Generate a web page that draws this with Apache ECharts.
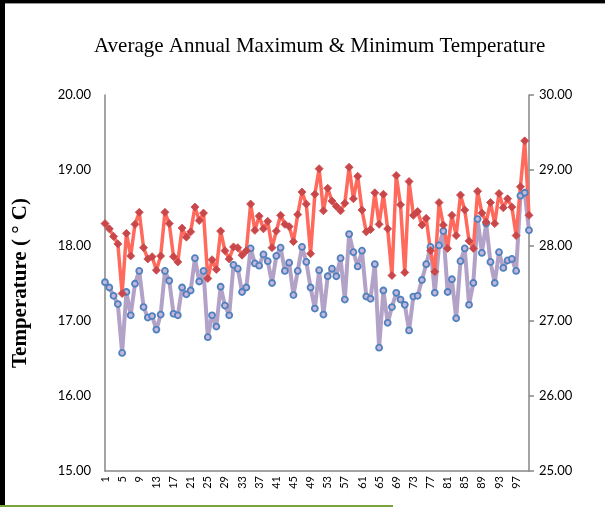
<!DOCTYPE html>
<html>
<head>
<meta charset="utf-8">
<script src="https://cdn.jsdelivr.net/npm/echarts@6/dist/echarts.min.js"></script>
<style>
html,body{margin:0;padding:0;background:#fff;}
#chart{width:605px;height:507px;}
</style>
</head>
<body>
<div id="chart"></div>
<script>
var titleText = 'Average Annual Maximum & Minimum Temperature';
var yAxisName = 'Temperature ( \u00b0 C)';
var categories = [1,2,3,4,5,6,7,8,9,10,11,12,13,14,15,16,17,18,19,20,
21,22,23,24,25,26,27,28,29,30,31,32,33,34,35,36,37,38,39,40,
41,42,43,44,45,46,47,48,49,50,51,52,53,54,55,56,57,58,59,60,
61,62,63,64,65,66,67,68,69,70,71,72,73,74,75,76,77,78,79,80,
81,82,83,84,85,86,87,88,89,90,91,92,93,94,95,96,97,98,99,100];
var minTemp = [17.51,17.44,17.33,17.22,16.57,17.38,17.07,17.49,17.66,17.18,
17.04,17.06,16.88,17.08,17.66,17.53,17.09,17.07,17.44,17.35,
17.40,17.83,17.52,17.66,16.78,17.07,16.92,17.45,17.20,17.07,
17.74,17.69,17.38,17.44,17.96,17.76,17.73,17.88,17.79,17.50,
17.86,17.97,17.66,17.77,17.34,17.66,17.98,17.78,17.44,17.16,
17.67,17.08,17.59,17.69,17.59,17.83,17.28,18.15,17.91,17.72,
17.93,17.32,17.29,17.75,16.64,17.40,16.97,17.18,17.37,17.28,
17.21,16.87,17.32,17.33,17.54,17.75,17.98,17.37,18.00,18.19,
17.38,17.55,17.03,17.79,17.96,17.21,17.50,18.35,17.90,18.29,
17.78,17.50,17.91,17.70,17.80,17.82,17.66,18.66,18.70,18.20];
var maxTemp = [28.29,28.22,28.12,28.02,27.36,28.16,27.86,28.28,28.44,27.97,
27.82,27.85,27.67,27.86,28.44,28.29,27.85,27.78,28.23,28.11,
28.18,28.51,28.33,28.43,27.56,27.81,27.68,28.19,27.93,27.82,
27.98,27.97,27.87,27.93,28.55,28.20,28.39,28.22,28.32,27.97,
28.19,28.40,28.28,28.25,28.05,28.41,28.71,28.55,27.89,28.68,
29.02,28.46,28.76,28.59,28.52,28.46,28.56,29.04,28.62,28.92,
28.47,28.18,28.21,28.70,28.28,28.68,28.22,27.60,28.93,28.54,
27.64,28.85,28.40,28.45,28.27,28.36,27.93,27.65,28.57,28.27,
27.96,28.40,28.13,28.67,28.47,28.06,27.96,28.72,28.43,28.31,
28.57,28.29,28.69,28.50,28.62,28.51,28.13,28.78,29.39,28.40];
var leftTicks = [15, 16, 17, 18, 19, 20];
var rightTicks = [25, 26, 27, 28, 29, 30];

var chart = echarts.init(document.getElementById('chart'), null, {renderer: 'canvas'});
var axisColor = '#868686';
var labelFont = 'Lato, "Open Sans", sans-serif';
chart.setOption({
  animation: false,
  backgroundColor: '#fff',
  title: {
    text: titleText,
    left: 89,
    top: 31,
    textStyle: {fontFamily: '"Liberation Serif", serif', fontSize: 21, fontWeight: 'normal', color: '#000'}
  },
  grid: {left: 105, right: 76, top: 95, bottom: 36, containLabel: false},
  xAxis: {
    type: 'category',
    data: categories,
    boundaryGap: false,
    axisLine: {lineStyle: {color: axisColor, width: 1.5}},
    axisTick: {show: false},
    axisLabel: {interval: 3, rotate: 90, fontSize: 11, color: '#000', margin: 5, fontFamily: labelFont},
    splitLine: {show: false}
  },
  yAxis: [
    {
      type: 'value', position: 'left',
      min: leftTicks[0], max: leftTicks[leftTicks.length - 1], interval: 1,
      name: yAxisName, nameLocation: 'middle', nameRotate: 90, nameGap: 74,
      nameTextStyle: {fontFamily: '"Liberation Serif", serif', fontSize: 21, fontWeight: 'bold', color: '#000'},
      axisLine: {show: true, lineStyle: {color: axisColor, width: 1.5}},
      axisTick: {show: false},
      splitLine: {show: false},
      axisLabel: {formatter: function (v) { return v.toFixed(2); }, fontSize: 13, color: '#000', margin: 14, fontFamily: labelFont}
    },
    {
      type: 'value', position: 'right',
      min: rightTicks[0], max: rightTicks[rightTicks.length - 1], interval: 1,
      axisLine: {show: true, lineStyle: {color: axisColor, width: 1.5}},
      axisTick: {show: true, inside: false, length: 5, lineStyle: {color: axisColor, width: 1.5}},
      splitLine: {show: false},
      axisLabel: {formatter: function (v) { return v.toFixed(2); }, fontSize: 13, color: '#000', margin: 10, fontFamily: labelFont}
    }
  ],
  series: [
    {
      name: 'Minimum', type: 'line', yAxisIndex: 0, data: minTemp,
      symbol: 'circle', symbolSize: 6, showSymbol: true, showAllSymbol: true,
      lineStyle: {color: '#b3a2c7', width: 4},
      itemStyle: {color: '#c7b6dc', borderColor: '#4f81bd', borderWidth: 1.8}
    },
    {
      name: 'Maximum', type: 'line', yAxisIndex: 1, data: maxTemp,
      symbol: 'diamond', symbolSize: 8, showSymbol: true, showAllSymbol: true,
      lineStyle: {color: '#ff6a5c', width: 3.5},
      itemStyle: {color: '#c9474a', borderColor: '#c9474a', borderWidth: 0.8}
    }
  ],
  graphic: [
    {type: 'rect', left: 0, top: 0, shape: {width: 605, height: 3}, style: {fill: '#000'}},
    {type: 'rect', left: 0, top: 3, shape: {width: 605, height: 1}, style: {fill: '#999'}},
    {type: 'rect', left: 0, top: 0, shape: {width: 5, height: 507}, style: {fill: '#000'}},
    {type: 'rect', left: 0, top: 505, shape: {width: 393, height: 2}, style: {fill: '#77a33a'}}
  ]
});
</script>
</body>
</html>
